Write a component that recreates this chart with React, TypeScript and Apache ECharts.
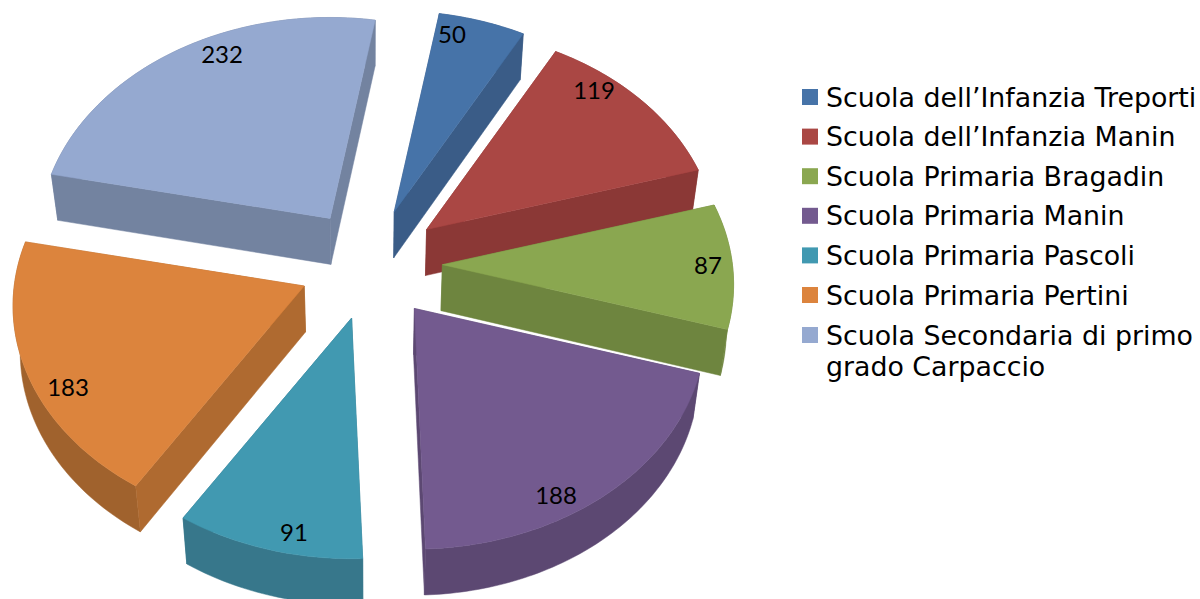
import React, { useEffect, useRef } from "react";
import * as echarts from "echarts";

const schools = [
  "Scuola dell’Infanzia Treporti",
  "Scuola dell’Infanzia Manin",
  "Scuola Primaria Bragadin",
  "Scuola Primaria Manin",
  "Scuola Primaria Pascoli",
  "Scuola Primaria Pertini",
  "Scuola Secondaria di primo grado Carpaccio",
];
const values = [50, 119, 87, 188, 91, 183, 232];
const topColors = ["#4673a8", "#aa4744", "#8aa750", "#735a8f", "#4199b1", "#dc843d", "#95a9d0"];
const wallColors = ["#3a5c87", "#8b3836", "#6e853f", "#5c4872", "#37778b", "#af6a30", "#7383a0"];
const rimColors = ["#3a5c87", "#8b3836", "#6e853f", "#5c4872", "#37778b", "#a0622d", "#7383a0"];
// Label centres, as placed in the picture.
const labelCentres = [
  [452, 33],
  [594, 89],
  [708, 264],
  [556, 494],
  [294, 531],
  [68, 386],
  [222, 53],
];

const total = values.reduce((a, b) => a + b, 0);
const START_DEG = 9.75;
const CX = 370.5;
const CY = 264.4;
const RX = 290;
const RY = 219;
const PERSP = 0.09;
const EXPLODE_X = 0.248;
const EXPLODE_Y = 0.254;
const DEPTH = 46;
const CONVERGE = 0.02;

const rad = (d: number) => (d * Math.PI) / 180;

function sliceGeometry(index: number) {
  const before = values.slice(0, index).reduce((a, b) => a + b, 0);
  const a0 = START_DEG + (before / total) * 360;
  const a1 = a0 + (values[index] / total) * 360;
  const mid = rad((a0 + a1) / 2);
  const apex = [CX + EXPLODE_X * RX * Math.sin(mid), CY - EXPLODE_Y * RY * Math.cos(mid)];
  const arc: number[][] = [];
  const steps = Math.max(2, Math.ceil(a1 - a0));
  for (let i = 0; i <= steps; i++) {
    const t = rad(a0 + ((a1 - a0) * i) / steps);
    const w = 1 + PERSP * Math.cos(t);
    arc.push([apex[0] + (RX * Math.sin(t)) / w, apex[1] - (RY * Math.cos(t)) / w]);
  }
  return { apex, arc };
}

const drop = (p: number[]) => [p[0] - CONVERGE * (p[0] - CX), p[1] + DEPTH];
const meanY = (pts: number[][]) => pts.reduce((s, p) => s + p[1], 0) / pts.length;

function face(points: number[][], color: string) {
  return {
    type: "polygon",
    shape: { points },
    style: { fill: color, stroke: color, lineWidth: 0.5 },
  };
}

function makeRenderItem(index: number) {
  return (_params: any, api: any) => {
    const { apex, arc } = sliceGeometry(index);
    const first = arc[0];
    const last = arc[arc.length - 1];
    const wallA = [apex, first, drop(first), drop(apex)];
    const wallB = [apex, last, drop(last), drop(apex)];
    const rim = [...arc, ...arc.slice().reverse().map(drop)];
    const walls = [
      { pts: wallA, color: wallColors[index] },
      { pts: wallB, color: wallColors[index] },
      { pts: rim, color: rimColors[index] },
    ].sort((a, b) => meanY(a.pts) - meanY(b.pts));
    return {
      type: "group",
      children: [
        ...walls.map((w) => face(w.pts, w.color)),
        face([apex, ...arc], topColors[index]),
        {
          type: "text",
          x: labelCentres[index][0],
          y: labelCentres[index][1],
          style: {
            text: String(api.value(0)),
            align: "center",
            verticalAlign: "middle",
            fontFamily: "Lato",
            fontSize: 24,
            fill: "#000000",
          },
        },
      ],
    };
  };
}

const legendFont = { fontFamily: "DejaVu Sans", fontSize: 26.8, color: "#000000" };
// A 16px square inside a 19px-wide icon box, which leaves the text gap of the reference.
const swatch = "path://M0 0H16V16H0Z M19 0L19 0";

export default function App() {
  const ref = useRef<HTMLDivElement>(null);
  useEffect(() => {
    const chart = echarts.init(ref.current!, undefined, { renderer: "svg" });
    chart.setOption({
      animation: false,
      backgroundColor: "#ffffff",
      legend: [
        {
          data: schools.slice(0, 6),
          orient: "vertical",
          left: 802,
          top: 83,
          padding: 0,
          icon: swatch,
          itemWidth: 19,
          itemHeight: 16,
          itemGap: 11.6,
          selectedMode: false,
          textStyle: { ...legendFont, lineHeight: 28 },
        },
        {
          data: schools.slice(6),
          orient: "vertical",
          left: 802,
          top: 288.5,
          padding: 0,
          icon: swatch,
          itemWidth: 19,
          itemHeight: 16,
          selectedMode: false,
          // The empty first line keeps the swatch level with the first line of text.
          formatter: () => "\nScuola Secondaria di primo\ngrado Carpaccio",
          textStyle: { ...legendFont, lineHeight: 31 },
        },
      ],
      series: schools.map((name, i) => ({
        type: "custom",
        name,
        coordinateSystem: "none",
        silent: true,
        itemStyle: { color: topColors[i] },
        data: [[values[i]]],
        renderItem: makeRenderItem(i),
      })),
    });
    return () => chart.dispose();
  }, []);
  return (
    <div
      ref={ref}
      style={{ position: "absolute", left: 0, top: 0, width: 1200, height: 599 }}
    />
  );
}
